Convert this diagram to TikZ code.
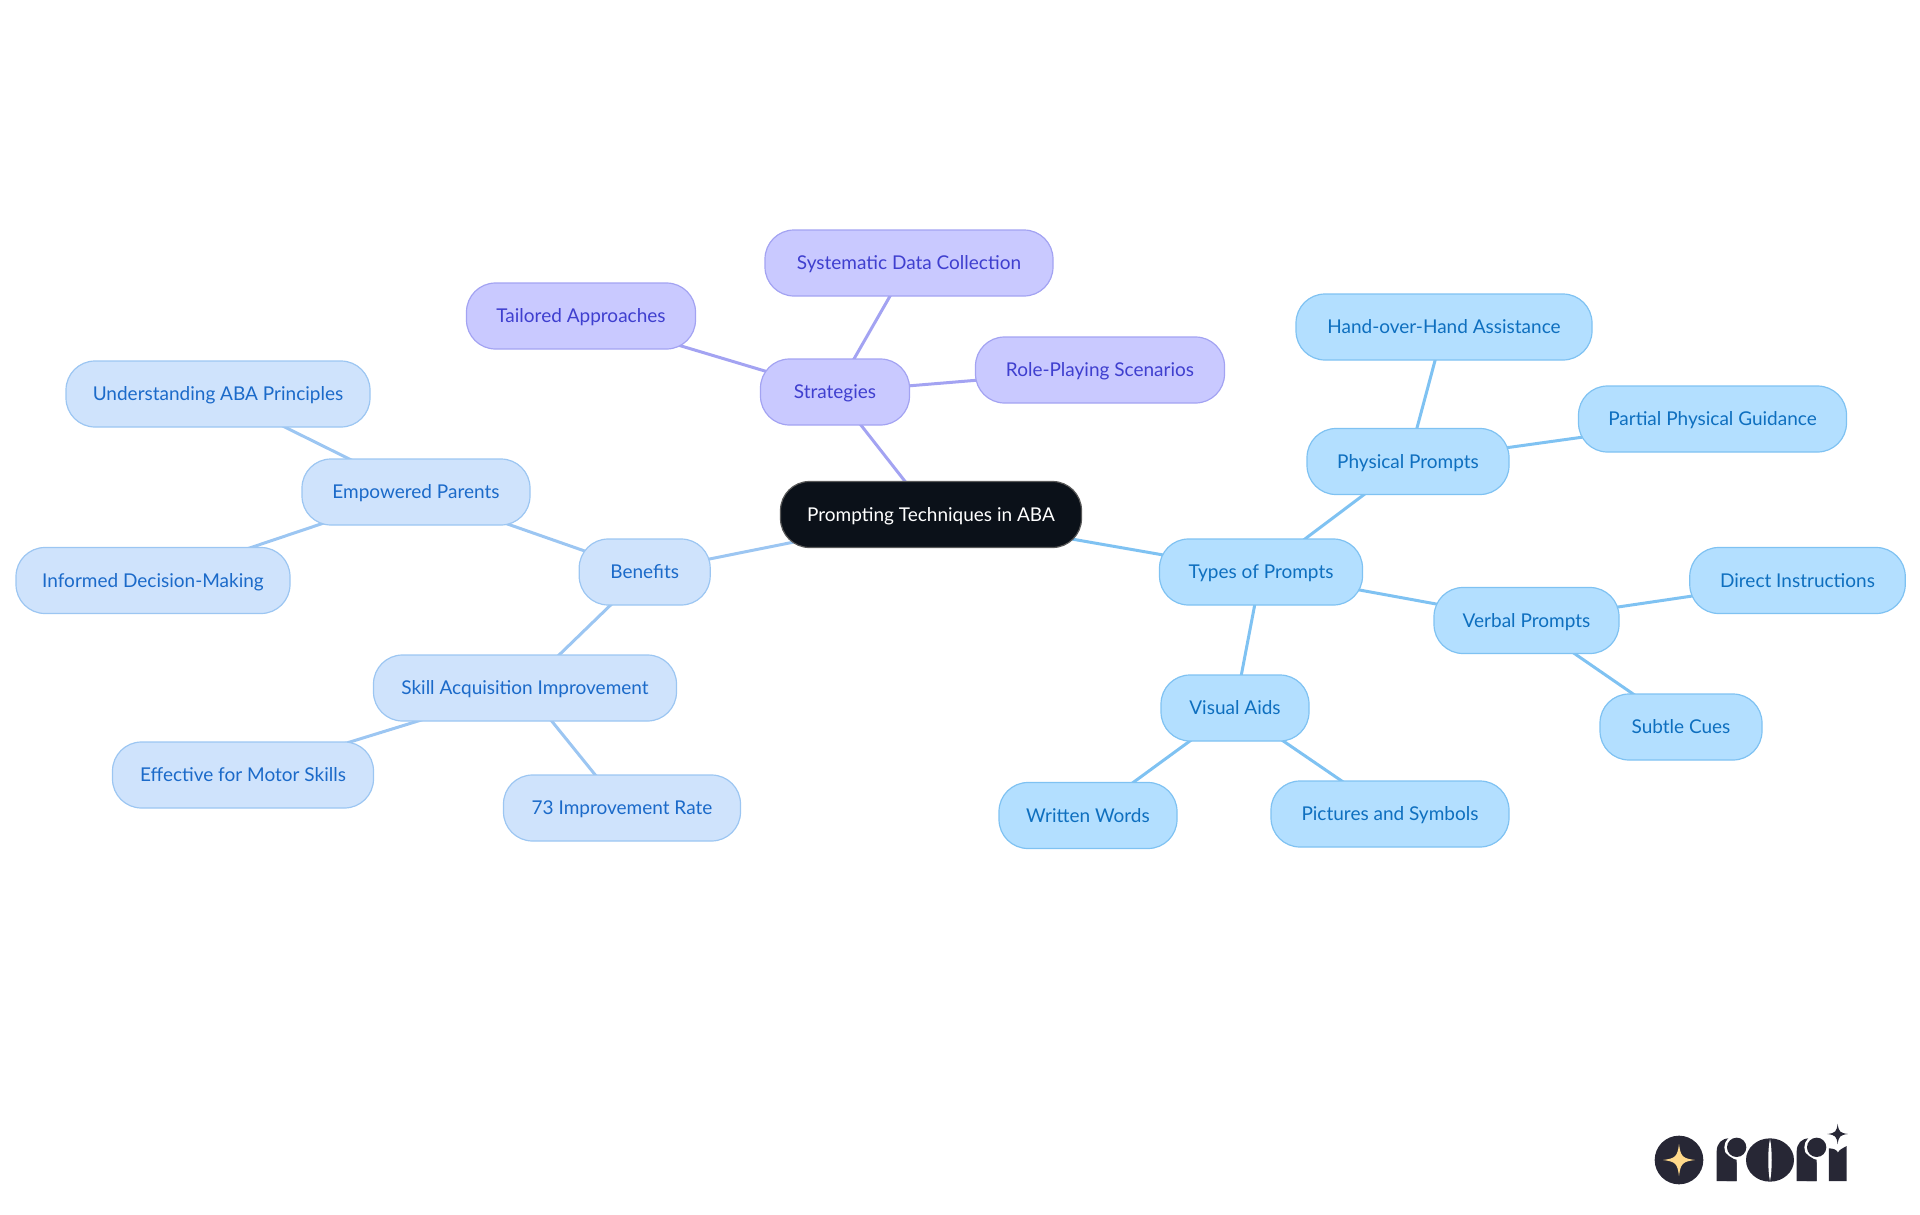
\documentclass[tikz,border=0pt]{standalone}
\usepackage{fontspec}
\setmainfont{Lato}
\usetikzlibrary{backgrounds}
\definecolor{purpF}{HTML}{C9C9FF}\definecolor{purpD}{HTML}{A3A3F2}\definecolor{purpT}{HTML}{3F3FCF}
\definecolor{blueF}{HTML}{B3DFFF}\definecolor{blueD}{HTML}{7FC2F2}\definecolor{blueT}{HTML}{0E6FBF}
\definecolor{liteF}{HTML}{CFE3FC}\definecolor{liteD}{HTML}{9CC6F2}\definecolor{liteT}{HTML}{1B6AC9}
\definecolor{rootF}{HTML}{0B1119}\definecolor{logoD}{HTML}{272735}\definecolor{logoS}{HTML}{FFD98A}
\tikzset{
  x=1pt,y=-1pt,
  mm/.style={rounded corners=29pt,line width=1.2pt,minimum height=66pt,inner sep=0pt,
    text height=15.5pt,text depth=2.5pt,
    font=\fontsize{19pt}{22pt}\selectfont},
  purp/.style={mm,fill=purpF,draw=purpD,text=purpT},
  blu/.style={mm,fill=blueF,draw=blueD,text=blueT},
  lit/.style={mm,fill=liteF,draw=liteD,text=liteT},
  rootn/.style={mm,fill=rootF,draw=gray!70!black,text=white},
  lp/.style={draw=purpD,line width=3pt},
  lb/.style={draw=blueD,line width=3pt},
  ll/.style={draw=liteD,line width=3pt},
}
\newcommand{\fourstar}[4]{% cx cy r colour (logo units)
  \fill[#4] ({#1-#3},#2) .. controls ({#1-0.22*#3},{#2-0.1*#3}) and ({#1-0.1*#3},{#2-0.22*#3}) .. (#1,{#2-#3})
   .. controls ({#1+0.1*#3},{#2-0.22*#3}) and ({#1+0.22*#3},{#2-0.1*#3}) .. ({#1+#3},#2)
   .. controls ({#1+0.22*#3},{#2+0.1*#3}) and ({#1+0.1*#3},{#2+0.22*#3}) .. (#1,{#2+#3})
   .. controls ({#1-0.1*#3},{#2+0.22*#3}) and ({#1-0.22*#3},{#2+0.1*#3}) .. ({#1-#3},#2) -- cycle;}
\begin{document}
\begin{tikzpicture}
\useasboundingbox (0,0) rectangle (1920,1215);
\node[rootn,minimum width=301pt] (root) at (931,514.5) {Prompting Techniques in ABA};
\node[purp,minimum width=149pt] (strat) at (835,392) {Strategies};
\node[purp,minimum width=288pt] (sys) at (909,263) {Systematic Data Collection};
\node[purp,minimum width=229pt] (tail) at (581,316) {Tailored Approaches};
\node[purp,minimum width=249pt] (role) at (1100,370) {Role-Playing Scenarios};
\node[blu,minimum width=203pt] (types) at (1261,572) {Types of Prompts};
\node[blu,minimum width=202pt] (phys) at (1408,461.5) {Physical Prompts};
\node[blu,minimum width=296pt] (hand) at (1444,327) {Hand-over-Hand Assistance};
\node[blu,minimum width=268pt] (part) at (1712.5,419) {Partial Physical Guidance};
\node[blu,minimum width=185pt] (verb) at (1526.5,620.5) {Verbal Prompts};
\node[blu,minimum width=215.5pt] (dir) at (1797.5,580.5) {Direct Instructions};
\node[blu,minimum width=162pt] (sub) at (1681,727) {Subtle Cues};
\node[blu,minimum width=148pt] (vis) at (1235,708) {Visual Aids};
\node[blu,minimum width=178pt] (writ) at (1088,815.5) {Written Words};
\node[blu,minimum width=238pt] (pict) at (1390,814) {Pictures and Symbols};
\node[lit,minimum width=131pt] (ben) at (644.7,572) {Benefits};
\node[lit,minimum width=228pt] (emp) at (416,492) {Empowered Parents};
\node[lit,minimum width=304pt] (und) at (218,394) {Understanding ABA Principles};
\node[lit,minimum width=274pt] (inf) at (153,580.5) {Informed Decision-Making};
\node[lit,minimum width=303pt] (skill) at (525,688) {Skill Acquisition Improvement};
\node[lit,minimum width=261pt] (eff) at (243,775) {Effective for Motor Skills};
\node[lit,minimum width=237pt] (imp) at (622,808) {73 Improvement Rate};
\begin{pgfonlayer}{background}
\draw[lp] (root.center)--(strat.center);
\draw[lp] (strat.center)--(sys.center);
\draw[lp] (strat.center)--(tail.center);
\draw[lp] (strat.center)--(role.center);
\draw[lb] (root.center)--(types.center);
\draw[lb] (types.center)--(phys.center);
\draw[lb] (phys.center)--(hand.center);
\draw[lb] (phys.center)--(part.center);
\draw[lb] (types.center)--(verb.center);
\draw[lb] (verb.center)--(dir.center);
\draw[lb] (verb.center)--(sub.center);
\draw[lb] (types.center)--(vis.center);
\draw[lb] (vis.center)--(writ.center);
\draw[lb] (vis.center)--(pict.center);
\draw[ll] (root.center)--(ben.center);
\draw[ll] (ben.center)--(emp.center);
\draw[ll] (emp.center)--(und.center);
\draw[ll] (emp.center)--(inf.center);
\draw[ll] (ben.center)--(skill.center);
\draw[ll] (skill.center)--(eff.center);
\draw[ll] (skill.center)--(imp.center);
\end{pgfonlayer}
% logo
\begin{scope}[shift={(1620,1100)},x=0.3333pt,y=-0.3333pt]
\fill[logoD] (177,180) circle[radius=73];
\fourstar{177}{180}{48}{logoS}
% first r
\fill[logoD] (290,243) -- (290,155) .. controls (290,130) and (305,115) .. (328,115)
  -- (350,115) -- (350,243) -- cycle;
\fill[white] (350,142) circle[radius=37];
\fill[white] (350,170) rectangle (372,243);
\fill[logoD] (350,142) circle[radius=29];
\fill[logoD] (318,160) .. controls (330,175) and (350,175) .. (350,190) -- (350,243) -- (320,243) -- cycle;
% o
\fill[logoD] (450,180) ellipse[x radius=72,y radius=65];
\fill[white] (450,117) .. controls (443,150) and (443,210) .. (450,243)
  .. controls (457,210) and (457,150) .. (450,117) -- cycle;
% second r
\fill[logoD] (530,243) -- (530,155) .. controls (530,130) and (545,115) .. (568,115)
  -- (590,115) -- (590,243) -- cycle;
\fill[white] (590,142) circle[radius=37];
\fill[white] (590,170) rectangle (612,243);
\fill[logoD] (590,142) circle[radius=29];
\fill[logoD] (558,160) .. controls (570,175) and (590,175) .. (590,190) -- (590,243) -- (560,243) -- cycle;
% i
\fill[logoD] (627,243) -- (627,145) .. controls (640,145) and (652,150) .. (654,158)
  .. controls (656,150) and (668,145) .. (680,138) -- (680,243) -- cycle;
\fourstar{653}{102}{31}{logoD}
\end{scope}
\end{tikzpicture}
\end{document}
